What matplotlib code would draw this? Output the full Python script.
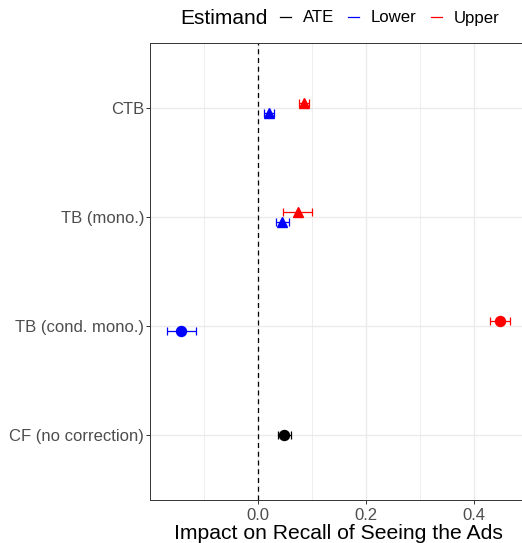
import matplotlib
matplotlib.use("Agg")
import matplotlib.pyplot as plt
from matplotlib.lines import Line2D
import numpy as np

plt.rcParams["font.family"] = ["Liberation Sans", "DejaVu Sans"]

# Rows, bottom to top
categories = ["CF (no correction)", "TB (cond. mono.)", "TB (mono.)", "CTB"]
markers = ["o", "o", "^", "^"]

# Estimates with confidence limits per estimand (None = not estimated)
ate_est = [0.048, None, None, None]
ate_lo = [0.037, None, None, None]
ate_hi = [0.061, None, None, None]

lower_est = [None, -0.143, 0.044, 0.020]
lower_lo = [None, -0.169, 0.033, 0.011]
lower_hi = [None, -0.115, 0.057, 0.030]

upper_est = [None, 0.448, 0.074, 0.085]
upper_lo = [None, 0.431, 0.046, 0.076]
upper_hi = [None, 0.467, 0.100, 0.094]

estimands = ["ATE", "Lower", "Upper"]
colors = {"ATE": "black", "Lower": "#0000FF", "Upper": "#FF0000"}
series = {
    "ATE": (ate_est, ate_lo, ate_hi),
    "Lower": (lower_est, lower_lo, lower_hi),
    "Upper": (upper_est, upper_lo, upper_hi),
}
dodge = {"ATE": 0.0, "Lower": -0.046, "Upper": 0.046}

W, H = 522, 543
fig = plt.figure(figsize=(W / 100, H / 100), dpi=100)
ax = fig.add_axes([150 / W, (H - 500) / H, (527 - 150) / W, (500 - 43) / H])

all_vals = [v for s in series.values() for arr in (s[1], s[2]) for v in arr if v is not None]
lo, hi = min(all_vals), max(all_vals)
pad = 0.05 * (hi - lo)
ax.set_xlim(lo - pad, hi + pad)
ax.set_ylim(0.4, len(categories) + 0.6)

for name in estimands:
    est, l, h = series[name]
    for i, (e, a, b) in enumerate(zip(est, l, h)):
        if e is None:
            continue
        y = i + 1 + dodge[name]
        ax.errorbar(e, y, xerr=[[e - a], [b - e]], fmt="none", ecolor=colors[name],
                    elinewidth=0.9, capsize=2.6, capthick=0.9, zorder=3)
        ax.plot(e, y, marker=markers[i], color=colors[name], markersize=7.2,
                linestyle="none", zorder=4)

ax.axvline(0, color="black", linestyle=(0, (4, 3)), linewidth=0.9, zorder=2)

ax.set_yticks(np.arange(1, len(categories) + 1))
ax.set_yticklabels(categories)
ax.set_xticks([0.0, 0.2, 0.4])
ax.set_xticklabels(["0.0", "0.2", "0.4"])
ax.set_xticks([-0.1, 0.1, 0.3], minor=True)
ax.tick_params(axis="both", which="major", labelsize=12, labelcolor="#4D4D4D",
               color="#333333", length=2.9, width=0.7, pad=1.2)
ax.tick_params(axis="x", which="major", pad=2.5)
ax.tick_params(axis="x", which="minor", length=0)
ax.grid(True, which="major", color="#EBEBEB", linewidth=1.0, zorder=0)
ax.grid(True, which="minor", axis="x", color="#EBEBEB", linewidth=0.6, zorder=0)
ax.set_axisbelow(True)
for sp in ax.spines.values():
    sp.set_color("#333333")
    sp.set_linewidth(0.7)

ax.set_xlabel("Impact on Recall of Seeing the Ads", fontsize=15.2, color="black", labelpad=1)

# Legend across the top with title on the left
fig.text(180 / W, 1 - 18 / H, "Estimand", fontsize=15, va="center", ha="left")
handles = [Line2D([], [], color=colors[n], linewidth=0.9) for n in estimands]
fig.legend(handles, estimands, ncol=3, loc="center left",
           bbox_to_anchor=(280 / W, 1 - 18 / H), frameon=False, fontsize=12.1,
           handlelength=0.65, handletextpad=0.7, columnspacing=0.85,
           borderpad=0, borderaxespad=0)

fig.savefig("out.png", dpi=100)
